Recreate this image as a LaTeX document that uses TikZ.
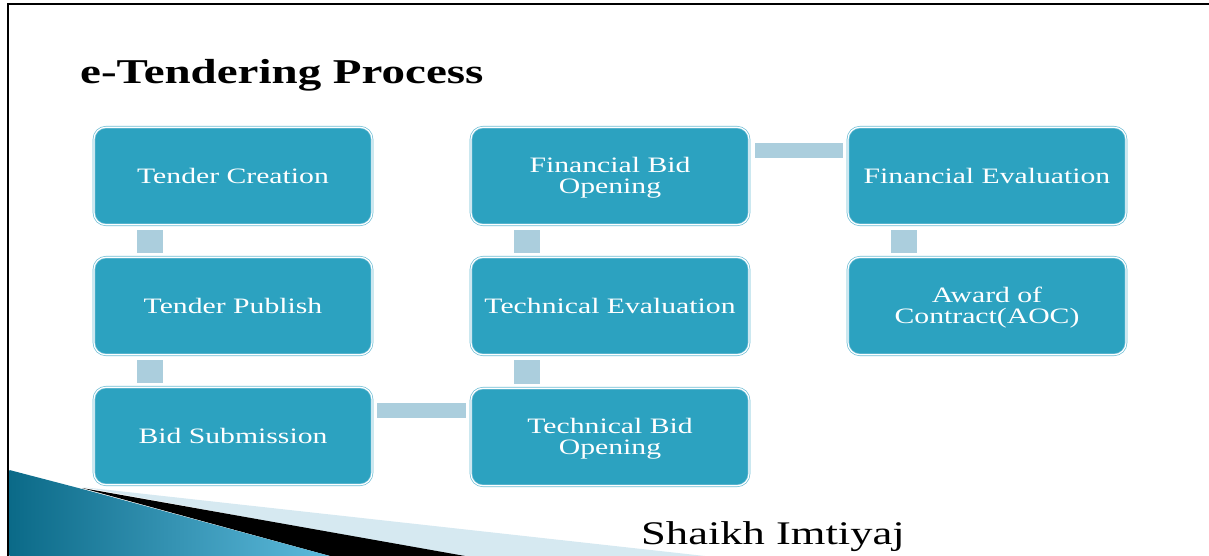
\documentclass[tikz,border=0pt]{standalone}
\usepackage{fontspec}
\setmainfont[FakeStretch=1.35]{Liberation Serif}
\definecolor{boxteal}{HTML}{2CA2C0}
\definecolor{boxedge}{HTML}{6DBDD5}
\definecolor{barblue}{HTML}{ABCEDD}
\definecolor{swdark}{HTML}{0B6A88}
\definecolor{swlight}{HTML}{5DBADC}
\definecolor{swpale}{HTML}{D6E9F1}
\newcommand\twolines[2]{\raisebox{-2.5pt}[\height][\depth]{\begin{tabular}{@{}c@{}}#1\\#2\end{tabular}}}
\begin{document}
\begin{tikzpicture}[x=1pt,y=-1pt,
  box/.style={draw=boxedge, double=white, double distance=1.2pt, line width=0.7pt,
    fill=boxteal, rounded corners=12pt, minimum width=278pt, minimum height=97.5pt,
    text=white, font=\fontsize{22}{21}\selectfont, align=center, inner sep=0pt},
  vbar/.style={draw=barblue, line width=26pt},
  hbar/.style={draw=barblue, line width=15pt}]
\useasboundingbox (0,0) rectangle (1209,556);
% frame
\draw[line width=2.8pt] (8,556) -- (8,4) -- (1209,4);
% bottom-left swoosh
\fill[swpale] (82,487) -- (705,556) -- (458,556) -- cycle;
\fill[black] (82,488) -- (465,556) -- (330,556) -- cycle;
\shade[left color=swdark, right color=swlight] (9.4,470) -- (86,490) -- (330,556) -- (9.4,556) -- cycle;
% title
\node[anchor=base west, inner sep=0pt, font=\fontsize{34.8}{40}\selectfont\bfseries] (title) at (80,84) {e-Tendering Process};
% boxes
\node[box] (tc)  at (233,176) {Tender Creation};
\node[box] (tp)  at (233,306) {Tender Publish};
\node[box] (bs)  at (233,436) {Bid Submission};
\node[box] (tbo) at (610,437) {\twolines{Technical Bid}{Opening}};
\node[box] (te)  at (610,306) {Technical Evaluation};
\node[box] (fbo) at (610,176) {\twolines{Financial Bid}{Opening}};
\node[box] (fe)  at (987,176) {Financial Evaluation};
\node[box] (aoc) at (987,306) {\twolines{Award of}{Contract(AOC)}};
% connectors
\draw[vbar] ([xshift=56pt,yshift=-5pt]tc.south west) -- ([xshift=56pt,yshift=4pt]tp.north west);
\draw[vbar] ([xshift=56pt,yshift=-5pt]tp.south west) -- ([xshift=56pt,yshift=4pt]bs.north west);
\draw[hbar] ([xshift=5pt,yshift=-23.5pt]bs.north east) -- ([xshift=-5pt,yshift=-22.5pt]tbo.north west);
\draw[vbar] ([xshift=56pt,yshift=4pt]tbo.north west) -- ([xshift=56pt,yshift=-5pt]te.south west);
\draw[vbar] ([xshift=56pt,yshift=4pt]te.north west) -- ([xshift=56pt,yshift=-5pt]fbo.south west);
\draw[hbar] ([xshift=6pt,yshift=-23.5pt]fbo.north east) -- ([xshift=-5pt,yshift=-23.5pt]fe.north west);
\draw[vbar] ([xshift=56pt,yshift=-5pt]fe.south west) -- ([xshift=56pt,yshift=4pt]aoc.north west);
% author
\node[anchor=base west, inner sep=0pt, font=\fontsize{33}{40}\selectfont] (author) at (641,544) {Shaikh Imtiyaj};
\end{tikzpicture}
\end{document}
